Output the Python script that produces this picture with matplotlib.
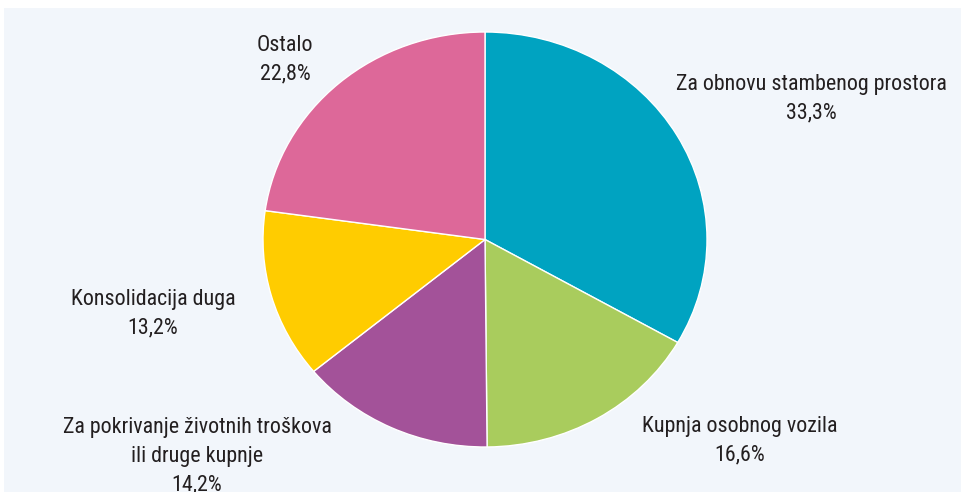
import matplotlib.pyplot as plt
from matplotlib import font_manager as fm
from matplotlib.patches import Rectangle

# udjeli namjene kredita (%), redom u smjeru kazaljke od vrha
labels = [["Za obnovu stambenog prostora"], ["Kupnja osobnog vozila"],
          ["Za pokrivanje životnih troškova", "ili druge kupnje"],
          ["Konsolidacija duga"], ["Ostalo"]]
values = [33.3, 16.6, 14.2, 13.2, 22.8]
colors = ["#00a3c1", "#a9cc5d", "#a35299", "#ffcc00", "#dd6899"]

# natpisi: sredina x i osnovna linija prvog retka, u pikselima od gornjeg lijevog kuta
label_x = [811, 740, 197, 153, 285]
label_base = [90, 432, 433, 305, 51]
line_step = 28.8

W, H = 961, 492
# pita je blago razvučena vodoravno
cx, cy, rx, ry = 485, 239.5, 222, 207.5


# pokušaj naći uski (condensed) font
def pick_font():
    prefer = ["Roboto Condensed", "Liberation Sans Narrow", "DejaVu Sans",
              "Noto Sans", "Open Sans", "Roboto"]
    cands = []
    for f in fm.fontManager.ttflist:
        narrow = (f.stretch in ("condensed", "semi-condensed", "extra-condensed")
                  or "Narrow" in f.name or "Condensed" in f.name)
        if narrow and f.style == "normal" and f.weight in (400, "normal", "regular"):
            rank = prefer.index(f.name) if f.name in prefer else len(prefer)
            cands.append((rank, f.fname))
    if cands:
        cands.sort()
        return fm.FontProperties(fname=cands[0][1]), True
    return fm.FontProperties(family=["Liberation Sans", "DejaVu Sans"]), False


fp, narrow = pick_font()

fig = plt.figure(figsize=(W / 100, H / 100), dpi=100)
fig.patch.set_facecolor("white")
ax = fig.add_axes([0, 0, 1, 1])

ax.pie(values, colors=colors, startangle=90, counterclock=False,
       center=(0, 0), radius=1,
       wedgeprops=dict(edgecolor="white", linewidth=1.0), frame=True)
ax.add_patch(Rectangle((4 / W, 0), 1, (H - 8) / H, transform=ax.transAxes,
                       facecolor="#f2f6fb", edgecolor="none", zorder=0))
ax.set_aspect("auto")
ax.set_xlim(-cx / rx, (W - cx) / rx)
ax.set_ylim(-(H - cy) / ry, cy / ry)
ax.axis("off")

# veličina fonta prema širini najduljeg natpisa (~270 px)
fig.canvas.draw()
probe = ax.text(0, 0, labels[0][0], fontproperties=fp, fontsize=10)
w10 = probe.get_window_extent(fig.canvas.get_renderer()).width
probe.remove()
fsize = 10 * 270 / w10

for lines, val, x, base in zip(labels, values, label_x, label_base):
    rows = lines + [("%.1f%%" % val).replace(".", ",")]
    for i, row in enumerate(rows):
        ax.text(x / W, 1 - (base + i * line_step) / H, row, transform=ax.transAxes,
                ha="center", va="baseline", fontproperties=fp, fontsize=fsize,
                color="#231f20", zorder=5)

fig.savefig("out.png", dpi=100)
